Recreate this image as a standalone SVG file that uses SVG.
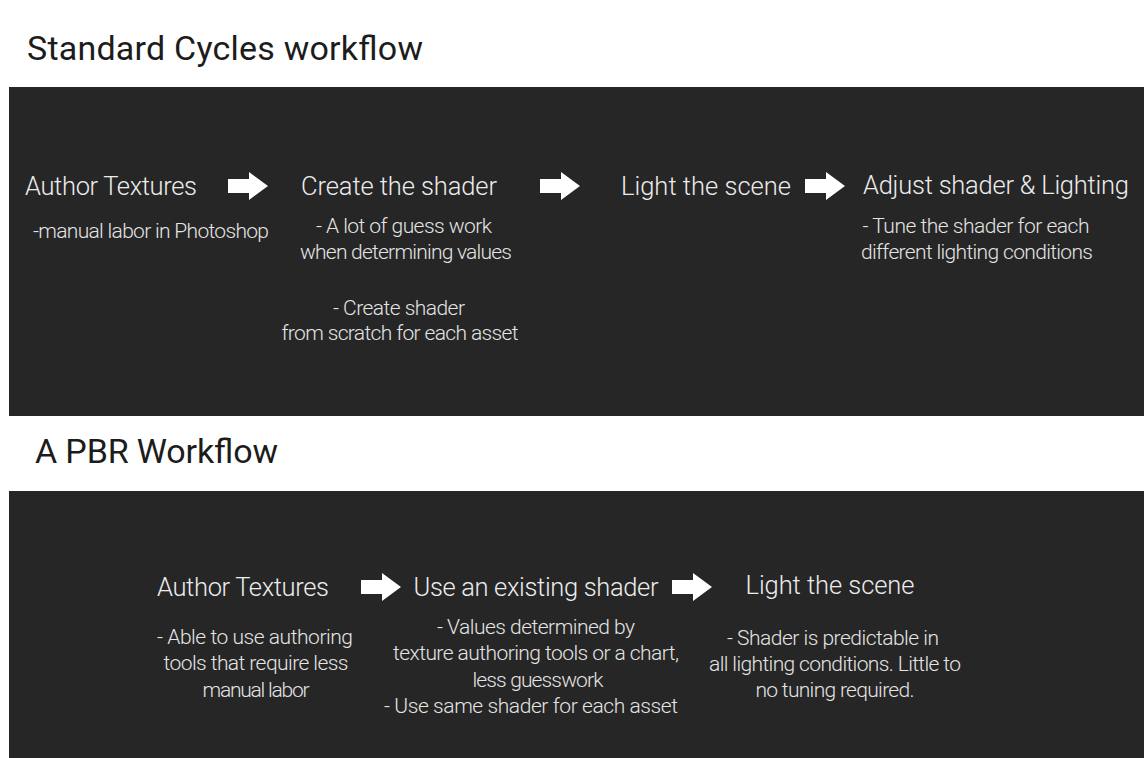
<svg xmlns="http://www.w3.org/2000/svg" width="1144" height="758" viewBox="0 0 1144 758">
  <style>
    .heading { font-family: Roboto, "Liberation Sans", sans-serif; font-size: 34px; font-weight: 400; fill: #1c1c1c; }
    .band { fill: #262626; }
    .step { font-family: Roboto, "Liberation Sans", sans-serif; font-size: 25.5px; font-weight: 300; fill: #ececec; text-anchor: middle; }
    .note { font-family: Roboto, "Liberation Sans", sans-serif; font-size: 21px; font-weight: 300; fill: #e4e4e4; text-anchor: middle; }
    .arrow { fill: #ffffff; }
  </style>
  <defs>
    <!-- block arrow, origin at the tail centre -->
    <path id="blockArrow" d="M0,-7 H21 V-14 L40,0 L21,14 V7 H0 Z"/>
  </defs>

  <rect x="0" y="0" width="1144" height="758" fill="#ffffff"/>

  <!-- section 1 -->
  <text class="heading" x="27" y="60" textLength="396" lengthAdjust="spacing">Standard Cycles workflow</text>
  <rect class="band" x="9" y="87" width="1135" height="329"/>

  <g id="std-author-textures">
    <text class="step" x="111" y="195" textLength="172" lengthAdjust="spacing">Author Textures</text>
    <text class="note" x="151" y="238" textLength="236" lengthAdjust="spacing">-manual labor in Photoshop</text>
  </g>
  <g id="std-create-shader">
    <text class="step" x="399" y="195" textLength="196" lengthAdjust="spacing">Create the shader</text>
    <text class="note" x="404" y="233" textLength="176" lengthAdjust="spacing">- A lot of guess work</text>
    <text class="note" x="406" y="259" textLength="212" lengthAdjust="spacing">when determining values</text>
    <text class="note" x="399" y="315" textLength="132" lengthAdjust="spacing">- Create shader</text>
    <text class="note" x="400" y="340" textLength="237" lengthAdjust="spacing">from scratch for each asset</text>
  </g>
  <g id="std-light-scene">
    <text class="step" x="706" y="195" textLength="170" lengthAdjust="spacing">Light the scene</text>
  </g>
  <g id="std-adjust">
    <text class="step" x="996" y="194" textLength="266" lengthAdjust="spacing">Adjust shader &amp; Lighting</text>
    <text class="note" x="976" y="233" textLength="227" lengthAdjust="spacing">- Tune the shader for each</text>
    <text class="note" x="977" y="259" textLength="232" lengthAdjust="spacing">different lighting conditions</text>
  </g>

  <!-- section 2 -->
  <text class="heading" x="35" y="463" textLength="243" lengthAdjust="spacing">A PBR Workflow</text>
  <rect class="band" x="9" y="491" width="1135" height="267"/>

  <g id="pbr-author-textures">
    <text class="step" x="243" y="596" textLength="172" lengthAdjust="spacing">Author Textures</text>
    <text class="note" x="255" y="644" textLength="196" lengthAdjust="spacing">- Able to use authoring</text>
    <text class="note" x="256" y="670" textLength="185" lengthAdjust="spacing">tools that require less</text>
    <text class="note" x="256" y="697" textLength="107" lengthAdjust="spacing">manual labor</text>
  </g>
  <g id="pbr-existing-shader">
    <text class="step" x="536" y="596" textLength="245" lengthAdjust="spacing">Use an existing shader</text>
    <text class="note" x="536" y="634" textLength="198" lengthAdjust="spacing">- Values determined by</text>
    <text class="note" x="536" y="660" textLength="286" lengthAdjust="spacing">texture authoring tools or a chart,</text>
    <text class="note" x="538" y="687" textLength="131" lengthAdjust="spacing">less guesswork</text>
    <text class="note" x="531" y="713" textLength="294" lengthAdjust="spacing">- Use same shader for each asset</text>
  </g>
  <g id="pbr-light-scene">
    <text class="step" x="830" y="594" textLength="169" lengthAdjust="spacing">Light the scene</text>
    <text class="note" x="833" y="645" textLength="212" lengthAdjust="spacing">- Shader is predictable in</text>
    <text class="note" x="835" y="671" textLength="252" lengthAdjust="spacing">all lighting conditions. Little to</text>
    <text class="note" x="835" y="697" textLength="159" lengthAdjust="spacing">no tuning required.</text>
  </g>

  <g id="connectors" class="arrow">
    <use href="#blockArrow" x="228" y="186"/>
    <use href="#blockArrow" x="540" y="186"/>
    <use href="#blockArrow" x="805" y="186"/>
    <use href="#blockArrow" x="361" y="587"/>
    <use href="#blockArrow" x="672" y="587"/>
  </g>
</svg>
